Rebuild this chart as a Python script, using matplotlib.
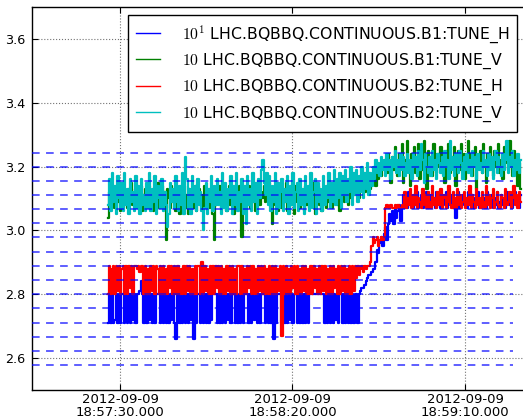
#LOADING NECESSARY LIBRARIES
from datetime import datetime, timedelta
import matplotlib
matplotlib.use('Agg')
from matplotlib import pyplot as plt
import matplotlib.dates as mdates

plt.rcParams['mathtext.fontset'] = 'cm'

#DATA (sampled every 0.4 s from 18:57:26.6)
t_start = datetime(2012, 9, 9, 18, 57, 26, 600000)
t_step = 0.4

b1_tune_h = [
    2.71, 2.80, 2.71, 2.80, 2.71, 2.72, 2.80, 2.71, 2.80, 2.71, 2.80, 2.80, 2.71, 2.80, 2.71, 2.80, 2.71, 2.80, 2.72, 2.80,
    2.71, 2.80, 2.80, 2.81, 2.84, 2.80, 2.71, 2.80, 2.71, 2.80, 2.72, 2.80, 2.71, 2.80, 2.71, 2.80, 2.80, 2.80, 2.71, 2.80,
    2.71, 2.80, 2.71, 2.80, 2.71, 2.80, 2.72, 2.80, 2.71, 2.66, 2.80, 2.80, 2.71, 2.80, 2.71, 2.80, 2.71, 2.80, 2.71, 2.80,
    2.72, 2.80, 2.66, 2.80, 2.71, 2.80, 2.80, 2.71, 2.80, 2.71, 2.80, 2.71, 2.80, 2.71, 2.80, 2.72, 2.80, 2.80, 2.80, 2.71,
    2.80, 2.71, 2.80, 2.71, 2.80, 2.71, 2.80, 2.72, 2.80, 2.71, 2.80, 2.80, 2.71, 2.80, 2.71, 2.80, 2.71, 2.80, 2.71, 2.80,
    2.80, 2.80, 2.71, 2.80, 2.71, 2.80, 2.72, 2.80, 2.71, 2.80, 2.71, 2.80, 2.80, 2.80, 2.71, 2.80, 2.71, 2.80, 2.71, 2.80,
    2.66, 2.80, 2.71, 2.80, 2.80, 2.80, 2.71, 2.80, 2.71, 2.80, 2.71, 2.80, 2.72, 2.80, 2.71, 2.80, 2.80, 2.71, 2.80, 2.71,
    2.80, 2.71, 2.80, 2.71, 2.80, 2.71, 2.80, 2.80, 2.80, 2.80, 2.80, 2.80, 2.80, 2.80, 2.80, 2.80, 2.80, 2.71, 2.80, 2.71,
    2.80, 2.71, 2.80, 2.71, 2.80, 2.72, 2.80, 2.71, 2.80, 2.80, 2.71, 2.80, 2.71, 2.80, 2.71, 2.80, 2.71, 2.80, 2.71, 2.80,
    2.80, 2.71, 2.80, 2.81, 2.82, 2.82, 2.83, 2.84, 2.85, 2.86, 2.86, 2.87, 2.88, 2.88, 2.90, 2.94, 2.93, 2.96, 2.98, 2.95,
    2.99, 3.01, 2.97, 3.02, 3.05, 3.03, 3.06, 3.02, 3.07, 3.04, 3.06, 3.08, 3.03, 3.07, 3.11, 3.07, 3.09, 3.07, 3.12, 3.08,
    3.10, 3.07, 3.11, 3.08, 3.12, 3.07, 3.09, 3.11, 3.07, 3.10, 3.08, 3.12, 3.07, 3.09, 3.11, 3.08, 3.10, 3.07, 3.12, 3.08,
    3.09, 3.07, 3.11, 3.08, 3.10, 3.12, 3.07, 3.09, 3.08, 3.11, 3.07, 3.10, 3.04, 3.08, 3.12, 3.07, 3.09, 3.11, 3.08, 3.10,
    3.07, 3.12, 3.08, 3.09, 3.11, 3.07, 3.10, 3.08, 3.12, 3.07, 3.09, 3.11, 3.08, 3.10, 3.07, 3.12, 3.09, 3.08, 3.11, 3.07,
    3.10, 3.08, 3.12, 3.07, 3.09, 3.11, 3.08, 3.10, 3.07, 3.12, 3.09, 3.08, 3.11, 3.07, 3.10, 3.12, 3.08, 3.09, 3.07, 3.11,
]

b1_tune_v = [
    3.04, 3.12, 3.08, 3.14, 3.10, 3.07, 3.13, 3.09, 3.15, 3.06, 3.11, 3.14, 3.08, 3.12, 3.07, 3.13, 3.10, 3.15, 3.08, 3.11,
    3.13, 3.07, 3.12, 3.09, 3.14, 3.06, 3.11, 3.13, 3.08, 3.10, 3.14, 3.08, 3.12, 3.06, 3.13, 3.09, 3.15, 3.07, 3.11, 3.14,
    3.08, 3.12, 2.97, 3.13, 3.10, 3.07, 3.14, 3.09, 3.11, 3.06, 3.13, 3.08, 3.05, 3.12, 3.10, 3.14, 3.07, 3.11, 3.05, 3.13,
    3.09, 3.12, 3.07, 3.14, 3.06, 3.10, 3.13, 3.08, 3.11, 3.06, 3.14, 3.09, 3.12, 3.07, 3.13, 3.10, 3.05, 2.97, 3.08, 3.12,
    3.11, 3.14, 3.07, 3.12, 3.09, 3.13, 3.06, 3.11, 3.14, 3.08, 3.12, 3.05, 3.13, 3.10, 3.07, 3.14, 3.09, 2.98, 3.06, 3.13,
    3.08, 3.11, 3.14, 3.07, 3.12, 3.09, 3.13, 3.06, 3.11, 3.15, 3.08, 3.12, 3.10, 3.14, 3.09, 3.13, 3.11, 3.15, 3.10, 3.02,
    3.12, 3.08, 3.14, 3.06, 3.11, 3.13, 3.07, 3.12, 3.09, 3.15, 3.06, 3.11, 3.13, 3.08, 3.12, 3.05, 3.14, 3.09, 3.11, 3.07,
    3.13, 3.10, 3.06, 3.14, 3.08, 3.12, 3.07, 3.13, 3.09, 3.15, 3.05, 3.11, 3.14, 3.08, 3.12, 3.06, 3.13, 3.10, 3.07, 3.14,
    3.09, 3.12, 3.07, 3.13, 3.10, 3.15, 3.08, 3.12, 3.06, 3.14, 3.11, 3.09, 3.15, 3.12, 3.08, 3.14, 3.10, 3.16, 3.11, 3.14,
    3.12, 3.16, 3.10, 3.15, 3.13, 3.17, 3.12, 3.16, 3.14, 3.18, 3.13, 3.17, 3.15, 3.19, 3.14, 3.18, 3.16, 3.20, 3.17, 3.21,
    3.19, 3.22, 3.18, 3.24, 3.20, 3.15, 3.23, 3.19, 3.26, 3.21, 3.17, 3.24, 3.20, 3.27, 3.15, 3.22, 3.19, 3.28, 3.21, 3.14,
    3.24, 3.20, 3.26, 3.18, 3.23, 3.27, 3.16, 3.22, 3.19, 3.28, 3.21, 3.13, 3.25, 3.20, 3.23, 3.17, 3.27, 3.21, 3.18, 3.24,
    3.20, 3.26, 3.19, 3.22, 3.15, 3.25, 3.21, 3.27, 3.18, 3.23, 3.20, 3.26, 3.14, 3.22, 3.25, 3.19, 3.27, 3.21, 3.24, 3.16,
    3.22, 3.28, 3.19, 3.24, 3.17, 3.21, 3.26, 3.13, 3.23, 3.20, 3.25, 3.18, 3.27, 3.21, 3.15, 3.24, 3.19, 3.26, 3.22, 3.17,
    3.25, 3.20, 3.23, 3.27, 3.18, 3.22, 3.16, 3.26, 3.21, 3.24, 3.19, 3.28, 3.22, 3.17, 3.25, 3.20, 3.23, 3.14, 3.21, 3.13,
]

b2_tune_h = [
    2.80, 2.89, 2.80, 2.88, 2.89, 2.80, 2.89, 2.81, 2.89, 2.80, 2.88, 2.89, 2.80, 2.89, 2.80, 2.89, 2.82, 2.89, 2.80, 2.89,
    2.89, 2.88, 2.89, 2.87, 2.89, 2.89, 2.80, 2.89, 2.80, 2.88, 2.80, 2.89, 2.81, 2.89, 2.80, 2.89, 2.88, 2.80, 2.89, 2.80,
    2.89, 2.80, 2.88, 2.80, 2.89, 2.82, 2.89, 2.80, 2.89, 2.80, 2.89, 2.89, 2.80, 2.88, 2.80, 2.89, 2.80, 2.89, 2.81, 2.89,
    2.80, 2.88, 2.80, 2.89, 2.80, 2.89, 2.89, 2.80, 2.90, 2.80, 2.89, 2.81, 2.88, 2.80, 2.89, 2.80, 2.89, 2.80, 2.89, 2.82,
    2.89, 2.80, 2.89, 2.80, 2.88, 2.80, 2.89, 2.81, 2.89, 2.80, 2.89, 2.80, 2.88, 2.80, 2.89, 2.89, 2.80, 2.89, 2.80, 2.88,
    2.80, 2.89, 2.82, 2.89, 2.80, 2.89, 2.80, 2.88, 2.80, 2.89, 2.81, 2.89, 2.80, 2.89, 2.80, 2.88, 2.80, 2.89, 2.80, 2.89,
    2.80, 2.89, 2.80, 2.88, 2.81, 2.89, 2.67, 2.89, 2.80, 2.89, 2.80, 2.88, 2.80, 2.89, 2.82, 2.89, 2.80, 2.89, 2.80, 2.88,
    2.80, 2.89, 2.81, 2.89, 2.80, 2.88, 2.80, 2.89, 2.80, 2.89, 2.82, 2.88, 2.80, 2.89, 2.80, 2.89, 2.81, 2.89, 2.80, 2.88,
    2.80, 2.89, 2.80, 2.89, 2.82, 2.88, 2.80, 2.89, 2.80, 2.89, 2.81, 2.89, 2.80, 2.88, 2.80, 2.89, 2.80, 2.89, 2.81, 2.89,
    2.85, 2.89, 2.86, 2.88, 2.89, 2.87, 2.89, 2.88, 2.89, 2.89, 2.90, 2.95, 2.98, 2.96, 2.97, 2.98, 2.95, 2.97, 2.98, 2.97,
    2.98, 3.07, 3.08, 3.07, 3.07, 3.08, 3.07, 3.07, 3.08, 3.07, 3.08, 3.07, 3.07, 3.08, 3.07, 3.12, 3.07, 3.10, 3.08, 3.13,
    3.07, 3.11, 3.08, 3.14, 3.07, 3.10, 3.09, 3.07, 3.13, 3.08, 3.11, 3.07, 3.12, 3.09, 3.07, 3.14, 3.08, 3.10, 3.07, 3.12,
    3.08, 3.13, 3.07, 3.10, 3.11, 3.07, 3.09, 3.14, 3.08, 3.07, 3.12, 3.10, 3.07, 3.13, 3.08, 3.11, 3.07, 3.09, 3.12, 3.07,
    3.10, 3.08, 3.14, 3.07, 3.11, 3.09, 3.07, 3.13, 3.08, 3.10, 3.07, 3.12, 3.09, 3.07, 3.14, 3.08, 3.11, 3.07, 3.10, 3.13,
    3.07, 3.09, 3.12, 3.08, 3.07, 3.11, 3.10, 3.07, 3.13, 3.08, 3.09, 3.12, 3.07, 3.10, 3.14, 3.08, 3.11, 3.07, 3.12, 3.09,
]

b2_tune_v = [
    3.08, 3.16, 3.06, 3.18, 3.09, 3.14, 3.05, 3.17, 3.10, 3.07, 3.15, 3.06, 3.18, 3.08, 3.13, 3.05, 3.16, 3.09, 3.12, 3.06,
    3.17, 3.07, 3.14, 3.05, 3.16, 3.08, 3.11, 3.06, 3.15, 3.07, 3.18, 3.06, 3.13, 3.09, 3.17, 3.05, 3.14, 3.10, 3.07, 3.16,
    3.06, 3.12, 3.08, 3.01, 3.05, 3.15, 3.09, 3.13, 3.07, 3.17, 3.09, 3.06, 3.14, 3.08, 3.18, 3.05, 3.23, 3.16, 3.07, 3.13,
    3.05, 3.17, 3.09, 3.14, 3.06, 3.16, 3.08, 3.12, 3.06, 3.00, 3.07, 3.15, 3.05, 3.13, 3.09, 3.17, 3.06, 3.14, 3.08, 3.16,
    3.08, 3.12, 3.05, 3.18, 3.07, 3.15, 3.06, 3.13, 3.10, 3.17, 3.05, 3.14, 3.08, 3.18, 3.06, 3.12, 3.09, 3.16, 3.05, 3.14,
    3.02, 3.17, 3.08, 3.13, 3.06, 3.18, 3.09, 3.15, 3.05, 3.16, 3.10, 3.19, 3.22, 3.15, 3.11, 3.18, 3.08, 3.17, 3.06, 3.14,
    3.09, 3.18, 3.05, 3.15, 3.07, 3.12, 3.16, 3.06, 3.13, 3.09, 3.17, 3.05, 3.14, 3.08, 3.18, 3.07, 3.12, 3.15, 3.06, 3.16,
    3.08, 3.13, 3.05, 3.17, 3.09, 3.14, 3.06, 3.18, 3.07, 3.12, 3.16, 3.05, 3.15, 3.09, 3.13, 3.06, 3.17, 3.08, 3.14, 3.10,
    3.18, 3.07, 3.15, 3.09, 3.19, 3.08, 3.16, 3.10, 3.18, 3.07, 3.17, 3.11, 3.19, 3.09, 3.16, 3.12, 3.20, 3.08, 3.18, 3.11,
    3.19, 3.09, 3.17, 3.12, 3.20, 3.10, 3.18, 3.13, 3.21, 3.11, 3.18, 3.14, 3.20, 3.16, 3.22, 3.18, 3.21, 3.17, 3.23, 3.19,
    3.22, 3.17, 3.24, 3.19, 3.22, 3.16, 3.23, 3.20, 3.25, 3.18, 3.22, 3.17, 3.24, 3.19, 3.23, 3.17, 3.21, 3.24, 3.18, 3.22,
    3.16, 3.24, 3.20, 3.23, 3.17, 3.25, 3.19, 3.27, 3.22, 3.15, 3.24, 3.20, 3.18, 3.23, 3.17, 3.25, 3.19, 3.22, 3.16, 3.24,
    3.21, 3.18, 3.23, 3.17, 3.25, 3.20, 3.22, 3.16, 3.28, 3.19, 3.23, 3.17, 3.24, 3.20, 3.18, 3.25, 3.21, 3.16, 3.23, 3.19,
    3.24, 3.18, 3.22, 3.17, 3.25, 3.20, 3.23, 3.16, 3.24, 3.19, 3.21, 3.18, 3.25, 3.20, 3.22, 3.17, 3.24, 3.19, 3.23, 3.16,
    3.22, 3.25, 3.18, 3.23, 3.20, 3.17, 3.24, 3.19, 3.22, 3.28, 3.18, 3.23, 3.20, 3.25, 3.17, 3.22, 3.19, 3.24, 3.18, 3.22,
]

labels = [r'$10^1$ LHC.BQBBQ.CONTINUOUS.B1:TUNE_H',
          r'$10$ LHC.BQBBQ.CONTINUOUS.B1:TUNE_V',
          r'$10$ LHC.BQBBQ.CONTINUOUS.B2:TUNE_H',
          r'$10$ LHC.BQBBQ.CONTINUOUS.B2:TUNE_V']
colors = ['b', 'g', 'r', 'c']

#resonance levels (blue dashed)
levels = [3.244, 3.200, 3.156, 3.111, 3.067, 3.022, 2.978, 2.933,
          2.889, 2.844, 2.800, 2.756, 2.711, 2.667, 2.622, 2.578]

tick_times = [datetime(2012, 9, 9, 18, 57, 30),
              datetime(2012, 9, 9, 18, 58, 20),
              datetime(2012, 9, 9, 18, 59, 10)]
x_left = datetime(2012, 9, 9, 18, 57, 4, 500000)
x_right = datetime(2012, 9, 9, 18, 59, 30)
level_end = datetime(2012, 9, 9, 18, 59, 24)

times = [t_start + timedelta(seconds=t_step * i) for i in range(len(b1_tune_h))]

#PLOT
fig = plt.figure(figsize=(5.23, 4.19), dpi=100)
ax = fig.add_axes([32 / 523, 29 / 419, 502 / 523, 383 / 419])

series = [b1_tune_h, b1_tune_v, b2_tune_h, b2_tune_v]
for vals, c, lab in zip(series, colors, labels):
    ax.plot(times, vals, color=c, linewidth=1.6, label=lab, drawstyle='steps-mid', zorder=2)

# dashed levels sit on top of the data
ax.hlines(levels, x_left, level_end, colors='b', linestyles=(0, (5, 4.2)), linewidth=1.1, alpha=0.8, zorder=3)

ax.set_xlim(x_left, x_right)
ax.set_ylim(2.5, 3.7)
ax.set_yticks([2.6, 2.8, 3.0, 3.2, 3.4, 3.6])
ax.set_xticks(tick_times)
ax.xaxis.set_major_formatter(mdates.DateFormatter('%Y-%m-%d\n%H:%M:%S.000'))

ax.grid(True, color='0.45', linestyle=':', linewidth=0.8)
ax.tick_params(direction='in', top=True, right=True, length=4)
ax.tick_params(axis='x', labelsize=9.5, pad=2.5)
ax.tick_params(axis='y', labelsize=9.2, pad=5)
for lab in ax.get_xticklabels():
    lab.set_linespacing(1.0)
for sp in ax.spines.values():
    sp.set_linewidth(1.0)

leg = ax.legend(loc='upper right', bbox_to_anchor=(517 / 523, 1 - 15 / 419),
                bbox_transform=fig.transFigure, borderaxespad=0, fontsize=11.3,
                fancybox=False, framealpha=1, edgecolor='black',
                handlelength=1.55, handletextpad=1.35, borderpad=0.5, labelspacing=0.45)
leg.get_frame().set_linewidth(1.0)
for h in leg.get_lines():
    h.set_linewidth(1.0)

plt.savefig('out.png', dpi=100)
